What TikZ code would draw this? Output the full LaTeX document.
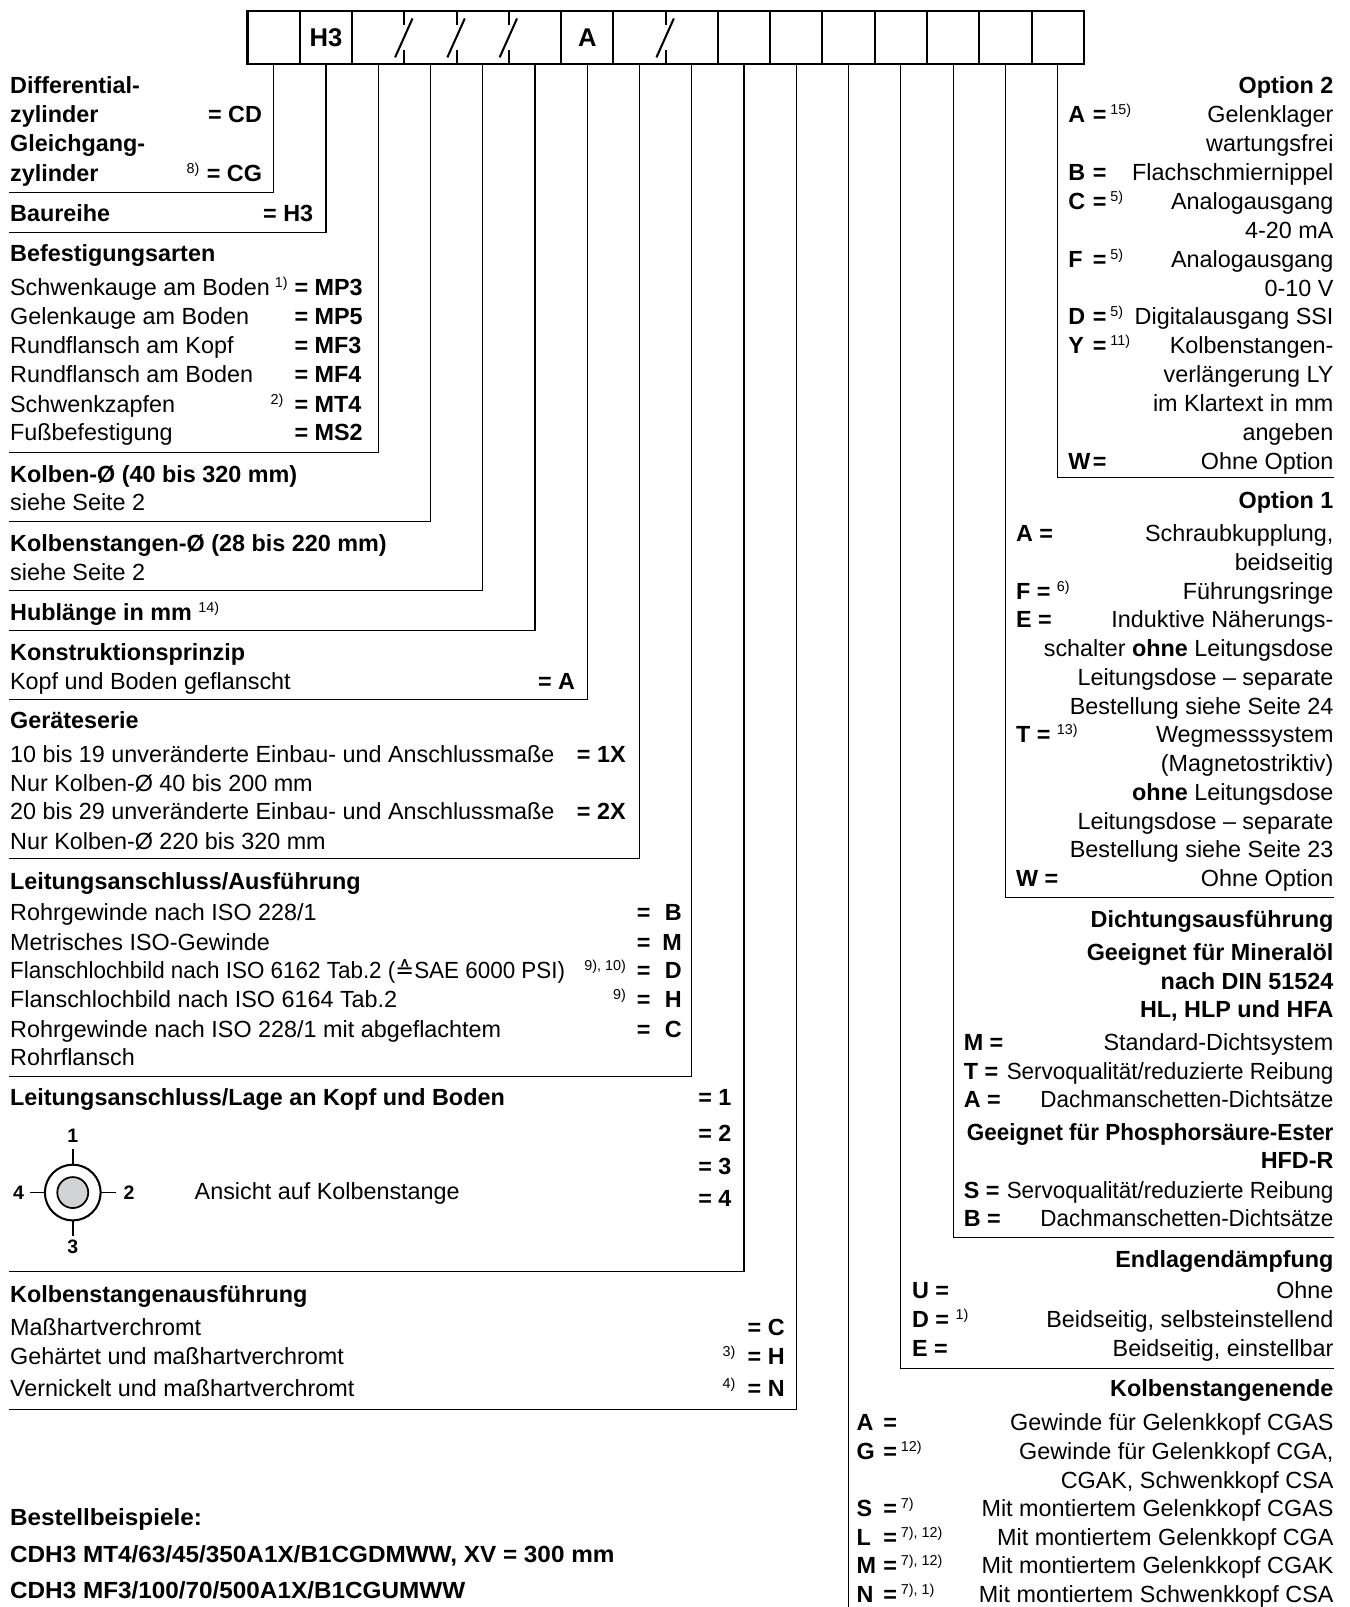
\documentclass[tikz,border=0pt]{standalone}
\usepackage{fontspec}
\setmainfont{Liberation Sans}
\newfontfamily\symfont{DejaVu Sans}
\usetikzlibrary{calc}

\definecolor{rodgrey}{RGB}{210,211,213}
\newcommand{\fn}[1]{\raisebox{3.9pt}{\fontsize{7}{7}\selectfont #1}}
\newcommand{\eqbox}[2]{\makebox[#1]{=\hfill#2}}
\newcommand{\letq}[2]{\makebox[#1][l]{#2}=}
\newcommand{\cond}[1]{\scalebox{0.96}[1]{#1}}
\newcommand{\wide}[1]{\scalebox{1.04}[1]{#1}}

\tikzset{
  cell/.style={minimum width=25.5pt,minimum height=25.75pt,inner sep=0pt,outer sep=0pt},
  frame/.style={line width=1pt},
  link/.style={line width=0.6pt},
  lt/.style={anchor=base west,inner sep=0pt},
  rt/.style={anchor=base east,inner sep=0pt},
  lb/.style={lt,font=\bfseries},
  rb/.style={rt,font=\bfseries},
  port/.style={inner sep=0pt,font=\fontsize{9.5}{10}\selectfont\bfseries},
}

\begin{document}
\fontsize{11.4}{13.7}\selectfont
\begin{tikzpicture}[x=0.5pt,y=0.5pt,yscale=-1]
\useasboundingbox (0,0) rectangle (1317,1568);

%Type code boxes
\foreach \i in {1,...,16}
  \node[cell] (c\i) at ({241.5+51*\i-25.5},36.75) {};
\node[font=\fontsize{12.5}{13}\selectfont\bfseries] (lh3) at (c2) {H3};
\node[font=\fontsize{12.5}{13}\selectfont\bfseries] (la) at (c7) {A};
\draw[frame] (c1.north west) rectangle (c16.south east);
\foreach \i in {1,2,6,7,9,10,11,12,13,14,15}
  \draw[frame] (c\i.north east) -- (c\i.south east);
%Slash dividers
\foreach \i in {3,4,5,8}{
  \draw[frame] (c\i.north east) -- ++(0,13.7);
  \draw[frame] (c\i.south east) -- ++(0,-13.7);
  \draw[frame] ($(c\i.north east)+(8,7)$) -- ($(c\i.south east)+(-9,-6.5)$);
}

%Leader ends
\coordinate (l1) at (8.5,187.5);
\coordinate (l2) at (8.5,227);
\coordinate (l3) at (8.5,441.5);
\coordinate (l4) at (8.5,509);
\coordinate (l5) at (8.5,576.5);
\coordinate (l6) at (8.5,615);
\coordinate (l7) at (8.5,682.5);
\coordinate (l8) at (8.5,838);
\coordinate (l9) at (8.5,1050);
\coordinate (l10) at (8.5,1241);
\coordinate (l11) at (8.5,1375);
\coordinate (r12) at (828,1568);
\coordinate (r13) at (1302,1335);
\coordinate (r14) at (1302,1207.5);
\coordinate (r15) at (1302,876);
\coordinate (r16) at (1302,466);
\foreach \i in {1,...,11}
  \draw[link] (c\i.south) |- (l\i);
\foreach \i in {13,...,16}
  \draw[link] (c\i.south) |- (r\i);
\draw[link] (c12.south) -- (r12);

% Text Node: Zylinder
\node[lb] (t1a) at (9.5,91) {Differential-};
\node[lb] (t1b) at (9.5,120) {zylinder};
\node[rb] (k1a) at (256,120) {= CD};
\node[lb] (t1c) at (9.5,148) {Gleichgang-};
\node[lb] (t1d) at (9.5,177) {zylinder};
\node[rt] (f1) at (195,177) {\fn{8)}};
\node[rb] (k1b) at (256,177) {= CG};

% Text Node: Baureihe
\node[lb] (t2) at (9.5,216) {Baureihe};
\node[rb] (k2) at (306,216) {= H3};

% Text Node: Befestigungsarten
\node[lb] (t3) at (9.5,255.5) {Befestigungsarten};
\foreach \y/\tx/\k [count=\i] in {288/Schwenkauge am Boden/MP3, 316.5/Gelenkauge am Boden/MP5,
    345/Rundflansch am Kopf/MF3, 373.5/Rundflansch am Boden/MF4, 402/Schwenkzapfen/MT4,
    430/Fußbefestigung/MS2}{
  \node[lt] (t3\i) at (9.5,\y) {\tx};
  \node[lb] (k3\i) at (287,\y) {= \k};
}
\node[rt] (f3a) at (281,288) {\fn{1)}};
\node[rt] (f3b) at (277,402) {\fn{2)}};

% Text Node: Kolben / Kolbenstange / Hub
\node[lb] (t4) at (9.5,471) {Kolben-Ø (40 bis 320 mm)};
\node[lt] (t4a) at (9.5,498.5) {siehe Seite 2};
\node[lb] (t5) at (9.5,538) {Kolbenstangen-Ø (28 bis 220 mm)};
\node[lt] (t5a) at (9.5,566) {siehe Seite 2};
\node[lb] (t6) at (9.5,605) {Hublänge in mm \textmd{\fn{14)}}};

% Text Node: Konstruktionsprinzip
\node[lb] (t7) at (9.5,644) {Konstruktionsprinzip};
\node[lt] (t7a) at (9.5,673) {Kopf und Boden geflanscht};
\node[rb] (k7) at (561.5,673) {= A};

% Text Node: Geraeteserie
\node[lb] (t8) at (9.5,711) {Geräteserie};
\node[lt] (t8a) at (9.5,743.5) {10 bis 19 unveränderte Einbau- und Anschlussmaße};
\node[lb] (k8a) at (562.5,743.5) {= 1X};
\node[lt] (t8b) at (9.5,772) {Nur Kolben-Ø 40 bis 200 mm};
\node[lt] (t8c) at (9.5,800) {20 bis 29 unveränderte Einbau- und Anschlussmaße};
\node[lb] (k8b) at (562.5,800) {= 2X};
\node[lt] (t8d) at (9.5,828.5) {Nur Kolben-Ø 220 bis 320 mm};

% Text Node: Leitungsanschluss/Ausfuehrung
\node[lb] (t9) at (9.5,868) {Leitungsanschluss/Ausführung};
\node[lt] (t9a) at (9.5,898) {Rohrgewinde nach ISO 228/1};
\node[lb] (k9a) at (621,898) {\eqbox{21.9pt}{B}};
\node[lt] (t9b) at (9.5,927) {Metrisches ISO-Gewinde};
\node[lb] (k9b) at (621,927) {\eqbox{21.9pt}{M}};
\node[lt] (t9c) at (9.5,955) {\cond{Flanschlochbild nach ISO 6162 Tab.2 ({\symfont ≙}SAE 6000 PSI)}};
\node[rt] (f9c) at (611,955) {\fn{9), 10)}};
\node[lb] (k9c) at (621,955) {\eqbox{21.9pt}{D}};
\node[lt] (t9d) at (9.5,983.5) {Flanschlochbild nach ISO 6164 Tab.2};
\node[rt] (f9d) at (611,983.5) {\fn{9)}};
\node[lb] (k9d) at (621,983.5) {\eqbox{21.9pt}{H}};
\node[lt] (t9e) at (9.5,1012.5) {Rohrgewinde nach ISO 228/1 mit abgeflachtem};
\node[lb] (k9e) at (621,1012.5) {\eqbox{21.9pt}{C}};
\node[lt] (t9f) at (9.5,1039.5) {Rohrflansch};

% Text Node: Lage
\node[lb] (t10) at (9.5,1079) {Leitungsanschluss/Lage an Kopf und Boden};
\foreach \y [count=\i] in {1079,1114,1145.5,1177}
  \node[lb] (k10\i) at (681,\y) {= \i};
\coordinate (rod) at (71,1163.6);
\draw[line width=1pt] (rod) circle[radius=27.2];
\draw[line width=0.85pt,fill=rodgrey] (rod) circle[radius=15.1];
\draw[line width=0.85pt] (71,1121) -- (71,1136.4) (71,1190.8) -- (71,1206)
  (29.3,1163.6) -- (43.8,1163.6) (98.4,1163.6) -- (113,1163.6);
\node[port] (p1) at (71,1108) {1};
\node[port] (p2) at (126,1163.6) {2};
\node[port] (p3) at (71,1216.6) {3};
\node[port] (p4) at (18,1163.6) {4};
\node[lt] (t10a) at (189.6,1170) {Ansicht auf Kolbenstange};

% Text Node: Kolbenstangenausfuehrung
\node[lb] (t11) at (9.5,1270.5) {Kolbenstangenausführung};
\node[lt] (t11a) at (9.5,1303) {Maßhartverchromt};
\node[rb] (k11a) at (766,1303) {= C};
\node[lt] (t11b) at (9.5,1331) {Gehärtet und maßhartverchromt};
\node[rt] (f11b) at (718,1331) {\fn{3)}};
\node[rb] (k11b) at (766,1331) {= H};
\node[lt] (t11c) at (9.5,1362.5) {Vernickelt und maßhartverchromt};
\node[rt] (f11c) at (718,1362.5) {\fn{4)}};
\node[rb] (k11c) at (766,1362.5) {= N};

% Text Node: Bestellbeispiele
\node[lb] (ex0) at (9.5,1488) {\wide{Bestellbeispiele:}};
\node[lb] (ex1) at (9.5,1524.5) {\wide{CDH3 MT4/63/45/350A1X/B1CGDMWW, XV = 300 mm}};
\node[lb] (ex2) at (9.5,1559.5) {\wide{CDH3 MF3/100/70/500A1X/B1CGUMWW}};

% Text Node: Option 2
\node[rb] (o2) at (1301.5,91) {Option 2};
\foreach \tx [count=\i from 0] in {Gelenklager, wartungsfrei, Flachschmiernippel, Analogausgang,
    4-20 mA, Analogausgang, 0-10 V, Digitalausgang SSI, Kolbenstangen-, verlängerung LY,
    im Klartext in mm, angeben, Ohne Option}
  \node[rt] (o2t\i) at (1301.5,{119.7+28.2*\i}) {\tx};
\foreach \y/\l/\f in {119.7/A/15), 176.1/B/, 204.3/C/5), 260.7/F/5), 317.1/D/5), 345.3/Y/11), 458.1/W/}
  \node[lb] (o2\l) at (1042,\y) {\letq{12pt}{\l}\,\textmd{\fn{\f}}};

% Text Node: Option 1
\node[rb] (o1) at (1301.5,496) {Option 1};
\foreach \tx [count=\i from 0] in {{Schraubkupplung,}, beidseitig, Führungsringe, Induktive Näherungs-,
    schalter \textbf{ohne} Leitungsdose, Leitungsdose – separate, Bestellung siehe Seite 24,
    Wegmesssystem, (Magnetostriktiv), \textbf{ohne} Leitungsdose, Leitungsdose – separate,
    Bestellung siehe Seite 23, Ohne Option}
  \node[rt] (o1t\i) at (1301.5,{528.5+28.04*\i}) {\tx};
\foreach \y/\l/\f in {528.5/A/, 584.6/F/6), 612.6/E/, 724.8/T/13), 865/W/}
  \node[lb] (o1\l) at (991,\y) {\l\ = \textmd{\fn{\f}}};

% Text Node: Dichtungsausfuehrung
\node[rb] (d0) at (1301.5,905) {Dichtungsausführung};
\node[rb] (d1) at (1301.5,937.5) {Geeignet für Mineralöl};
\node[rb] (d2) at (1301.5,965) {nach DIN 51524};
\node[rb] (d3) at (1301.5,992.5) {HL, HLP und HFA};
\node[lb] (dM) at (940,1025.3) {M =};
\node[rt] (dMt) at (1301.5,1025.3) {Standard-Dichtsystem};
\node[lb] (dT) at (940,1053) {T =};
\node[rt] (dTt) at (1301.5,1053) {\cond{Servoqualität/reduzierte Reibung}};
\node[lb] (dA) at (940,1080.6) {A =};
\node[rt] (dAt) at (1301.5,1080.6) {\cond{Dachmanschetten-Dichtsätze}};
\node[rb] (d4) at (1301.5,1112.8) {\cond{Geeignet für Phosphorsäure-Ester}};
\node[rb] (d5) at (1301.5,1139.8) {HFD-R};
\node[lb] (dS) at (940,1169) {S =};
\node[rt] (dSt) at (1301.5,1169) {\cond{Servoqualität/reduzierte Reibung}};
\node[lb] (dB) at (940,1196.7) {B =};
\node[rt] (dBt) at (1301.5,1196.7) {\cond{Dachmanschetten-Dichtsätze}};

% Text Node: Endlagendaempfung
\node[rb] (e0) at (1301.5,1236.7) {Endlagendämpfung};
\node[lb] (eU) at (889.5,1266.5) {U =};
\node[rt] (eUt) at (1301.5,1266.5) {Ohne};
\node[lb] (eD) at (889.5,1295) {D = \textmd{\fn{1)}}};
\node[rt] (eDt) at (1301.5,1295) {Beidseitig, selbsteinstellend};
\node[lb] (eE) at (889.5,1324) {E =};
\node[rt] (eEt) at (1301.5,1324) {Beidseitig, einstellbar};

% Text Node: Kolbenstangenende
\node[rb] (s0) at (1301.5,1363) {Kolbenstangenende};
\foreach \tx [count=\i from 0] in {Gewinde für Gelenkkopf CGAS, {Gewinde für Gelenkkopf CGA,},
    {CGAK, Schwenkkopf CSA}, Mit montiertem Gelenkkopf CGAS, Mit montiertem Gelenkkopf CGA,
    Mit montiertem Gelenkkopf CGAK, Mit montiertem Schwenkkopf CSA}
  \node[rt] (s0t\i) at (1301.5,{1396+27.95*\i}) {\tx};
\foreach \y/\l/\f in {1396/A/, 1423.9/G/12), 1479.8/S/7), 1507.8/L/{7), 12)}, 1535.7/M/{7), 12)}, 1563.7/N/{7), 1)}}
  \node[lb] (s\l) at (835.5,\y) {\letq{13pt}{\l}\,\textmd{\fn{\f}}};

\end{tikzpicture}
\end{document}
